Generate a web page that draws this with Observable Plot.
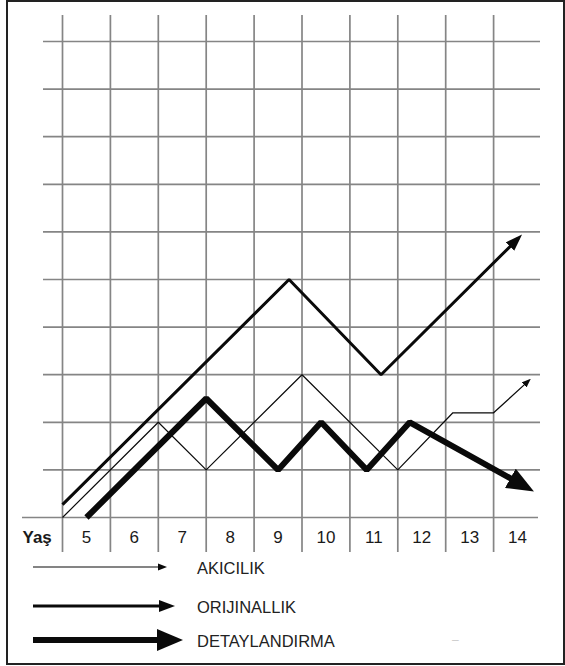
<!DOCTYPE html>
<html><head><meta charset="utf-8">
<script src="https://cdn.jsdelivr.net/npm/d3@7"></script>
<script src="https://cdn.jsdelivr.net/npm/@observablehq/plot@0.6"></script>
<style>
body{margin:0;background:#fff;font-family:"Liberation Sans",Arial,sans-serif}
#frame{position:absolute;left:6px;top:0;width:559px;height:665px;box-sizing:border-box;border:2px solid #222;pointer-events:none}
#chart{position:absolute;left:0;top:0}
#legend{position:absolute;left:0;top:555px}
</style></head>
<body>
<div id="chart"></div>
<div id="legend"></div>
<div id="frame"></div>
<script>
// ---- data ----
const ages = [5, 6, 7, 8, 9, 10, 11, 12, 13, 14];
const axisTitle = "Yaş";
const gridXValues = [4.5, 5.5, 6.5, 7.5, 8.5, 9.5, 10.5, 11.5, 12.5, 13.5];
const gridYValues = [1, 2, 3, 4, 5, 6, 7, 8, 9, 10];

const akicilikX = [4.5, 6.5, 7.5, 9.5, 11.5, 12.65, 13.5, 14.23];
const akicilikY = [0, 2, 1, 3, 1, 2.2, 2.2, 2.87];

const orijinallikX = [4.5, 9.23, 11.15, 14.02];
const orijinallikY = [0.27, 5, 3, 5.87];

const detayX = [5.0, 7.5, 9.0, 9.9, 10.85, 11.75, 14.16];
const detayY = [0, 2.5, 1, 2, 1, 2, 0.65];

const legendLabels = ["AKICILIK", "ORIJINALLIK", "DETAYLANDIRMA"];

// ---- helpers ----
const zip = (xs, ys) => xs.map((x, i) => ({x, y: ys[i]}));
const NS = "http://www.w3.org/2000/svg";
function head(len, wid, back) {
  return (color, context) => {
    const doc = (context && context.document) || document;
    const m = doc.createElementNS(NS, "marker");
    m.setAttribute("viewBox", `0 ${-wid / 2} ${len} ${wid}`);
    m.setAttribute("markerWidth", len);
    m.setAttribute("markerHeight", wid);
    m.setAttribute("markerUnits", "userSpaceOnUse");
    m.setAttribute("orient", "auto");
    m.setAttribute("refX", len - back);
    m.setAttribute("refY", 0);
    const p = doc.createElementNS(NS, "path");
    p.setAttribute("d", `M0,${-wid / 2}L${len},0L0,${wid / 2}Z`);
    p.setAttribute("fill", color);
    p.setAttribute("stroke", "none");
    m.appendChild(p);
    return m;
  };
}

const gridStyle = {stroke: "#858585", strokeWidth: 1.7};
const lineStyle = {x: "x", y: "y", stroke: "#0a0a0a", strokeLinejoin: "miter", strokeLinecap: "butt", curve: "linear"};

const chart = Plot.plot({
  width: 565,
  height: 555,
  marginLeft: 62,
  marginRight: 24,
  marginTop: 41,
  marginBottom: 38,
  style: {fontFamily: "'Liberation Sans', Arial, sans-serif", background: "transparent"},
  x: {type: "linear", domain: [4.5, 14.5], axis: null},
  y: {type: "linear", domain: [0, 10], axis: null},
  marks: [
    Plot.ruleX(gridXValues, {...gridStyle, insetTop: -26, insetBottom: -35}),
    Plot.ruleY(gridYValues, {...gridStyle, insetLeft: -19, insetRight: 1}),
    Plot.ruleY([0], {...gridStyle, insetLeft: -40, insetRight: 3}),
    Plot.line(zip(akicilikX, akicilikY), {...lineStyle, strokeWidth: 1.2, markerEnd: head(9, 7, 3)}),
    Plot.line(zip(orijinallikX, orijinallikY), {...lineStyle, strokeWidth: 3, markerEnd: head(17, 12, 5)}),
    Plot.line(zip(detayX, detayY), {...lineStyle, strokeWidth: 6, markerEnd: head(27, 22, 10)}),
    Plot.text(ages, {x: (d) => d, y: () => 0, dy: 20, fontSize: 17, fill: "#1a1a1a", text: (d) => String(d)}),
    Plot.text([axisTitle], {x: () => 4.5, y: () => 0, dx: -40, dy: 20, textAnchor: "start", fontSize: 17, fontWeight: "bold", fill: "#1a1a1a", text: (d) => d})
  ]
});
document.getElementById("chart").appendChild(chart);

// ---- legend ----
const legendWidths = [1.2, 3, 6];
const legendHeads = [[9, 7], [16, 12], [26, 22]];
const legendTips = [167, 175, 183];
const legendYs = [12, 51, 85];
const lg = d3.select("#legend").append("svg").attr("width", 565).attr("height", 100);
legendLabels.forEach((label, i) => {
  const [len, wid] = legendHeads[i];
  const tip = legendTips[i], y = legendYs[i];
  lg.append("line").attr("x1", 33).attr("x2", tip - len + 2).attr("y1", y).attr("y2", y)
    .attr("stroke", "#0a0a0a").attr("stroke-width", legendWidths[i]);
  lg.append("path").attr("d", `M${tip - len},${y - wid / 2}L${tip},${y}L${tip - len},${y + wid / 2}Z`).attr("fill", "#0a0a0a");
  lg.append("text").attr("x", 197).attr("y", y + 2).attr("dy", "0.32em")
    .attr("font-size", 16.5).attr("fill", "#222").text(label);
});
lg.append("text").attr("x", 452).attr("y", 85).attr("dy", "0.32em").attr("font-size", 12).attr("fill", "#ccc").text("–");
</script>
</body></html>
